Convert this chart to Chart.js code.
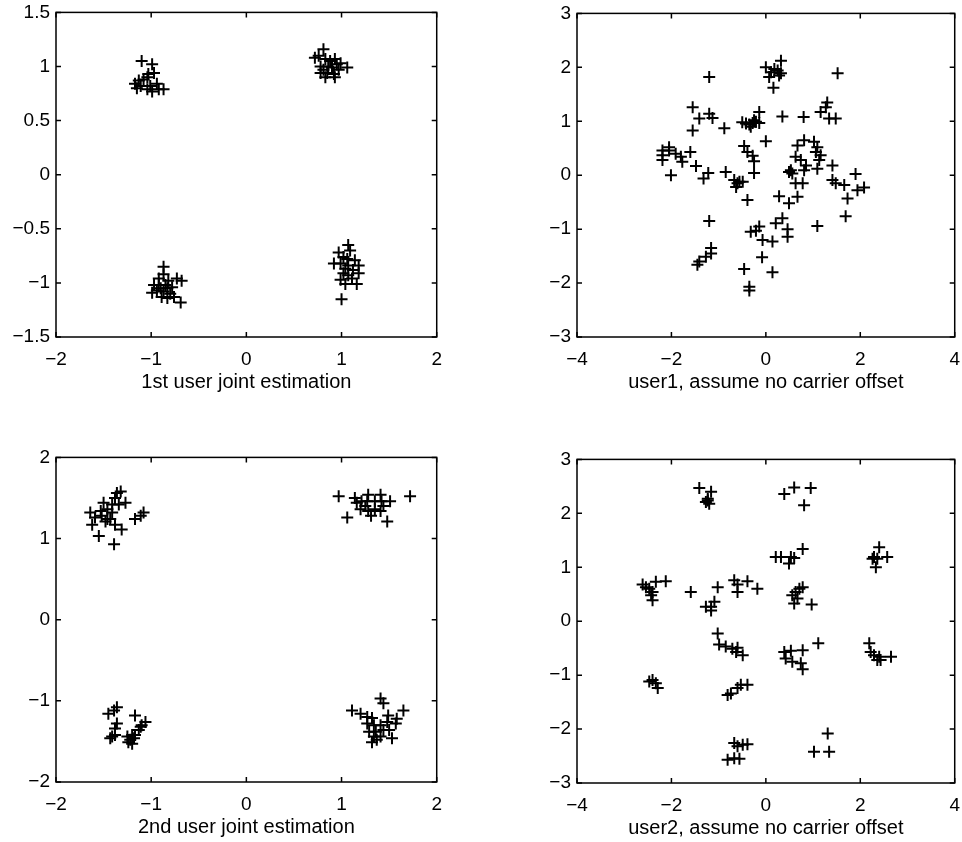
<!DOCTYPE html>
<html>
<head>
<meta charset="utf-8">
<script src="https://cdn.jsdelivr.net/npm/chart.js@4/dist/chart.umd.min.js"></script>
<style>
  html, body { margin: 0; padding: 0; background: #fff; }
  body { width: 962px; height: 842px; position: relative; overflow: hidden; }
  canvas { position: absolute; }
</style>
</head>
<body>
<canvas id="c1"></canvas>
<canvas id="c2"></canvas>
<canvas id="c3"></canvas>
<canvas id="c4"></canvas>
<script>
// ---------- Data ----------
// Plot 1: 1st user joint estimation
const p1x = [-1.10,-0.99,-0.97,-1.04,-1.08,-1.13,-1.17,-1.11,-1.01,-1.04,-0.99,-0.87,-0.94,-1.15,-1.03,-0.92,
  0.81,0.76,0.83,0.88,0.93,0.95,1.06,0.86,0.81,0.78,0.85,0.92,0.93,0.83,0.99,0.78,0.90,0.97,0.72,
  -0.87,-0.87,-0.92,-0.82,-0.73,-0.68,-0.97,-0.92,-0.85,-0.78,-0.99,-0.94,-0.87,-0.80,-0.89,-0.83,-0.69,-0.76,-0.90,-0.83,
  1.07,1.09,0.97,1.02,1.06,1.14,0.92,0.99,1.07,1.18,1.04,1.12,1.18,1.02,1.07,0.99,1.11,1.16,1.04,1.00];
const p1y = [1.05,1.02,0.94,0.90,0.88,0.87,0.84,0.82,0.82,0.79,0.77,0.79,0.84,0.80,0.93,0.79,
  1.16,1.10,1.07,1.05,1.07,1.02,0.99,1.00,0.97,0.94,0.94,0.93,0.90,0.90,1.03,1.00,0.99,0.97,1.08,
  -0.85,-0.92,-0.96,-0.98,-0.96,-0.98,-1.02,-1.02,-1.02,-1.04,-1.09,-1.07,-1.08,-1.10,-1.13,-1.14,-1.18,-1.13,-1.05,-1.05,
  -0.65,-0.70,-0.72,-0.76,-0.78,-0.79,-0.82,-0.82,-0.84,-0.84,-0.87,-0.88,-0.91,-0.91,-0.93,-0.97,-0.96,-1.01,-1.01,-1.15];

// Plot 2: user1, assume no carrier offset
const p2x = [0.00,0.18,0.11,0.25,0.32,0.28,0.32,0.16,0.07,-1.20,1.52,
  -1.55,-1.41,-1.20,-1.13,-1.55,-0.88,-0.14,
  -0.50,-0.42,-0.35,-0.28,-0.21,-0.32,-0.25,-0.14,
  0.35,0.80,1.27,1.16,1.34,1.48,1.30,
  0.00,-0.46,-0.39,-0.28,-0.25,-0.25,
  -2.19,-2.19,-2.05,-2.05,-1.91,-1.80,-1.77,-2.19,-2.01,-1.60,-1.48,-1.22,-1.32,-0.85,
  -0.67,-0.60,-0.49,-0.63,-0.56,-0.39,
  0.67,0.81,1.02,1.09,1.06,1.16,1.13,0.63,0.74,0.85,0.81,
  0.49,0.53,0.56,0.63,0.78,1.09,1.41,1.41,1.48,1.66,1.90,1.94,2.08,1.73,1.69,1.09,
  0.28,0.49,0.67,0.35,0.21,0.46,0.46,
  -0.14,-0.21,-0.32,-0.07,0.14,-0.08,0.14,-0.46,-0.35,-0.35,
  -1.20,-1.16,-1.16,-1.27,-1.41,-1.45];
const p2y = [2.00,1.97,1.91,1.94,1.89,1.85,2.12,1.62,1.82,1.82,1.89,
  1.26,1.05,1.14,1.06,0.83,0.87,1.17,
  0.98,0.96,0.94,0.97,0.99,0.90,1.02,0.97,
  1.09,1.08,1.26,1.17,1.05,1.05,1.35,
  0.63,0.54,0.43,0.36,0.26,0.04,
  0.46,0.37,0.46,0.52,0.40,0.34,0.25,0.28,0.00,0.43,0.17,0.04,-0.06,0.06,
  -0.09,-0.15,-0.12,-0.22,-0.12,-0.46,
  0.55,0.65,0.62,0.52,0.43,0.37,0.28,0.34,0.28,0.18,0.09,
  0.06,0.09,0.03,-0.15,-0.15,0.12,0.18,-0.09,-0.15,-0.18,0.02,-0.28,-0.23,-0.43,-0.76,-0.94,
  -0.39,-0.52,-0.40,-0.80,-0.89,-1.00,-1.14,
  -0.95,-1.03,-1.05,-1.20,-1.23,-1.52,-1.80,-1.74,-2.07,-2.14,
  -0.85,-1.35,-1.45,-1.51,-1.60,-1.66];

// Plot 3: 2nd user joint estimation
const p3x = [-1.64,-1.62,-1.59,-1.55,-1.52,-1.50,-1.46,-1.46,-1.41,-1.41,-1.43,-1.39,-1.36,-1.32,-1.38,-1.34,-1.27,-1.38,-1.31,-1.17,-1.11,-1.08,-1.53,-1.48,
  0.97,1.06,1.14,1.16,1.20,1.25,1.28,1.28,1.27,1.31,1.35,1.41,1.42,1.44,1.41,1.48,1.51,1.72,1.35,1.21,
  -1.36,-1.39,-1.45,-1.36,-1.38,-1.41,-1.38,-1.43,-1.25,-1.22,-1.20,-1.17,-1.17,-1.13,-1.10,-1.06,-1.11,-1.24,-1.18,-1.20,
  1.41,1.44,1.11,1.20,1.27,1.32,1.49,1.58,1.65,1.27,1.34,1.41,1.48,1.57,1.29,1.36,1.44,1.50,1.34,1.41,1.53,1.32,1.37];
const p3y = [1.32,1.17,1.26,1.03,1.28,1.44,1.36,1.24,1.42,1.32,1.24,0.93,1.56,1.58,1.50,1.42,1.44,1.17,1.11,1.24,1.28,1.32,1.34,1.21,
  1.52,1.26,1.50,1.44,1.36,1.40,1.54,1.34,1.46,1.28,1.46,1.54,1.46,1.40,1.34,1.21,1.46,1.52,1.36,1.46,
  -1.08,-1.12,-1.16,-1.28,-1.34,-1.44,-1.42,-1.46,-1.44,-1.48,-1.53,-1.42,-1.18,-1.36,-1.30,-1.26,-1.32,-1.51,-1.46,-1.42,
  -0.97,-1.03,-1.12,-1.16,-1.20,-1.21,-1.18,-1.22,-1.12,-1.28,-1.30,-1.30,-1.26,-1.28,-1.38,-1.38,-1.36,-1.36,-1.44,-1.44,-1.46,-1.51,-1.48];

// Plot 4: user2, assume no carrier offset
const p4x = [-1.41,-1.16,-1.23,-1.27,-1.20,-1.23,
  0.39,0.60,0.95,0.81,
  0.21,0.32,0.53,0.60,0.49,0.78,
  2.40,2.29,2.36,2.57,2.33,2.26,
  -2.61,-2.54,-2.47,-2.40,-2.43,-2.33,-2.12,-2.40,
  -1.59,-1.02,-1.09,-1.27,-1.16,-1.16,
  -0.67,-0.60,-0.60,-0.39,-0.18,
  0.56,0.63,0.71,0.78,0.60,0.67,0.97,
  -1.02,-0.99,-0.85,-0.71,-0.63,-0.49,-0.60,
  0.39,0.53,0.78,0.42,0.56,0.74,0.78,1.11,
  2.22,2.29,2.40,2.43,2.65,2.19,2.36,
  -2.40,-2.33,-2.29,-2.47,
  -0.39,-0.53,-0.60,-0.74,-0.81,
  -0.67,-0.60,-0.49,-0.39,-0.67,-0.56,-0.81,
  1.31,1.02,1.34];
const p4y = [2.47,2.40,2.27,2.21,2.18,2.24,
  2.36,2.48,2.47,2.15,
  1.19,1.19,1.19,1.17,1.07,1.34,
  1.37,1.19,1.16,1.19,1.00,1.16,
  0.68,0.63,0.60,0.54,0.48,0.73,0.74,0.39,
  0.54,0.63,0.36,0.27,0.27,0.20,
  0.76,0.68,0.54,0.74,0.60,
  0.48,0.54,0.60,0.63,0.33,0.42,0.31,
  -0.23,-0.43,-0.47,-0.51,-0.57,-0.63,-0.49,
  -0.57,-0.55,-0.54,-0.69,-0.75,-0.78,-0.89,-0.41,
  -0.57,-0.63,-0.66,-0.72,-0.66,-0.41,-0.72,
  -1.09,-1.15,-1.24,-1.12,
  -1.18,-1.18,-1.24,-1.34,-1.37,
  -2.26,-2.32,-2.29,-2.28,-2.54,-2.55,-2.57,
  -2.08,-2.42,-2.42];

// Tick values
const ticksX1 = [-2, -1, 0, 1, 2];
const ticksY1 = [-1.5, -1, -0.5, 0, 0.5, 1, 1.5];
const ticksX2 = [-4, -2, 0, 2, 4];
const ticksY2 = [-3, -2, -1, 0, 1, 2, 3];
const ticksX3 = [-2, -1, 0, 1, 2];
const ticksY3 = [-2, -1, 0, 1, 2];
const ticksX4 = [-4, -2, 0, 2, 4];
const ticksY4 = [-3, -2, -1, 0, 1, 2, 3];

const titles = ['1st user joint estimation', 'user1, assume no carrier offset',
                '2nd user joint estimation', 'user2, assume no carrier offset'];

// ---------- Drawing ----------
const FAMILY = '"Liberation Sans", Arial, Helvetica, sans-serif';
const TICKFONT = { family: FAMILY, size: 19 };
const TITLEFONT = { family: FAMILY, size: 20 };
const fmt = v => String(v).replace('-', '\u2212');

const boxPlugin = {
  id: 'boxTicks',
  afterDraw(chart) {
    const { ctx, chartArea: a, scales } = chart;
    const tl = 5;
    ctx.save();
    ctx.strokeStyle = '#000';
    ctx.lineWidth = 1.5;
    ctx.strokeRect(a.left, a.top, a.right - a.left, a.bottom - a.top);
    ctx.beginPath();
    scales.x.ticks.forEach(t => {
      const px = scales.x.getPixelForValue(t.value);
      ctx.moveTo(px, a.bottom); ctx.lineTo(px, a.bottom - tl);
      ctx.moveTo(px, a.top); ctx.lineTo(px, a.top + tl);
    });
    scales.y.ticks.forEach(t => {
      const py = scales.y.getPixelForValue(t.value);
      ctx.moveTo(a.left, py); ctx.lineTo(a.left + tl, py);
      ctx.moveTo(a.right, py); ctx.lineTo(a.right - tl, py);
    });
    ctx.stroke();
    ctx.restore();
  }
};

function makeChart(id, area, xs, ys, tx, ty, title) {
  const padL = 60, padT = 16, padR = 16, xH = 57;
  const left = area.L - padL, top = area.T - padT;
  const w = area.R - left + padR, h = area.B + xH - top;
  const cv = document.getElementById(id);
  cv.style.left = left + 'px'; cv.style.top = top + 'px';
  cv.width = w; cv.height = h;
  cv.style.width = w + 'px'; cv.style.height = h + 'px';
  const pts = xs.map((x, i) => ({ x: x, y: ys[i] }));
  new Chart(cv, {
    type: 'scatter',
    data: { datasets: [{ data: pts, pointStyle: 'cross', pointRadius: 6, pointHoverRadius: 6,
      borderColor: '#000', backgroundColor: '#000', pointBorderWidth: 2 }] },
    options: {
      responsive: false, animation: false, devicePixelRatio: 1,
      layout: { padding: { top: padT, right: padR, left: 0, bottom: 0 } },
      plugins: { legend: { display: false }, tooltip: { enabled: false } },
      scales: {
        x: {
          type: 'linear', min: tx[0], max: tx[tx.length - 1],
          afterBuildTicks: s => { s.ticks = tx.map(v => ({ value: v })); },
          afterFit: s => { s.height = xH; },
          grid: { display: false, drawTicks: false }, border: { display: false },
          ticks: { color: '#000', font: TICKFONT, padding: 11, maxRotation: 0, callback: fmt },
          title: { display: true, text: title, color: '#000', font: TITLEFONT, padding: 0 }
        },
        y: {
          type: 'linear', min: ty[0], max: ty[ty.length - 1],
          afterBuildTicks: s => { s.ticks = ty.map(v => ({ value: v })); },
          afterFit: s => { s.width = padL; },
          grid: { display: false, drawTicks: false }, border: { display: false },
          ticks: { color: '#000', font: TICKFONT, padding: 6, callback: fmt }
        }
      }
    },
    plugins: [boxPlugin]
  });
}

makeChart('c1', { L: 56, T: 11, R: 437, B: 337 }, p1x, p1y, ticksX1, ticksY1, titles[0]);
makeChart('c2', { L: 577, T: 12, R: 955, B: 337 }, p2x, p2y, ticksX2, ticksY2, titles[1]);
makeChart('c3', { L: 56, T: 456, R: 437, B: 782 }, p3x, p3y, ticksX3, ticksY3, titles[2]);
makeChart('c4', { L: 577, T: 458, R: 955, B: 783 }, p4x, p4y, ticksX4, ticksY4, titles[3]);
</script>
</body>
</html>
